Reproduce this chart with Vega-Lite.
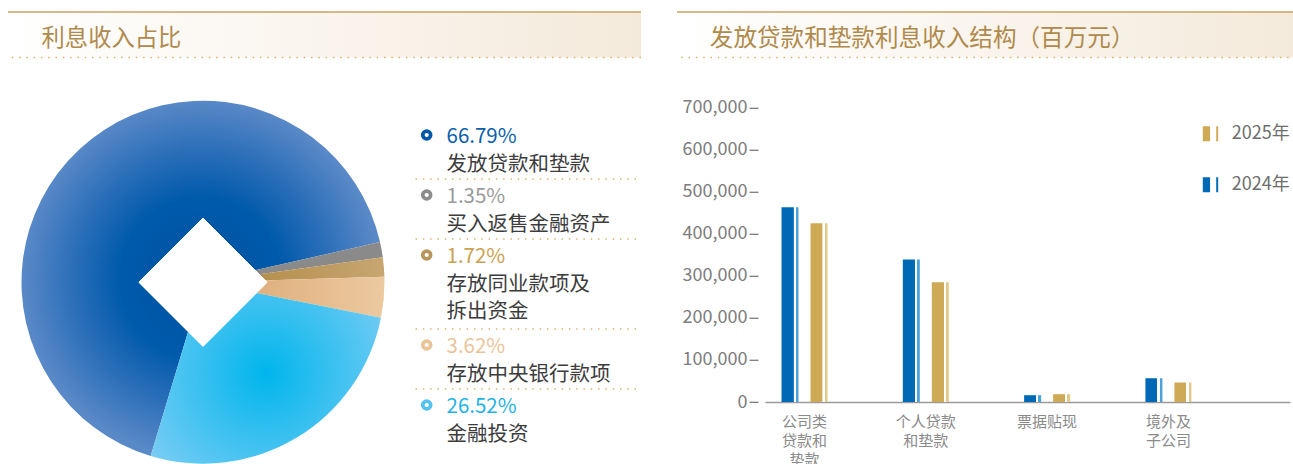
{
  "$schema": "https://vega.github.io/schema/vega-lite/v6.json",
  "padding": {"left": 7, "top": 11, "right": 0, "bottom": 0},
  "background": "#ffffff",
  "config": {
    "font": "Noto Sans CJK SC",
    "view": {"stroke": null}
  },
  "datasets": {
    "shares": [
      {"name": "发放贷款和垫款", "pct": 0.6679, "label": "发放贷款和垫款", "lines": 2, "rank": 1},
      {"name": "买入返售金融资产", "pct": 0.0135, "label": "买入返售金融资产", "lines": 2, "rank": 2},
      {"name": "存放同业款项及拆出资金", "pct": 0.0172, "label": "存放同业款项及\n拆出资金", "lines": 3, "rank": 3},
      {"name": "存放中央银行款项", "pct": 0.0362, "label": "存放中央银行款项", "lines": 2, "rank": 4},
      {"name": "金融投资", "pct": 0.2652, "label": "金融投资", "lines": 2, "rank": 5}
    ],
    "loans": [
      {"cat": "公司类贷款和垫款", "year": "2024年", "value": 463500},
      {"cat": "公司类贷款和垫款", "year": "2025年", "value": 425400},
      {"cat": "个人贷款和垫款", "year": "2024年", "value": 339000},
      {"cat": "个人贷款和垫款", "year": "2025年", "value": 285000},
      {"cat": "票据贴现", "year": "2024年", "value": 16200},
      {"cat": "票据贴现", "year": "2025年", "value": 18600},
      {"cat": "境外及子公司", "year": "2024年", "value": 56600},
      {"cat": "境外及子公司", "year": "2025年", "value": 46400}
    ],
    "heads": [
      {"panel": "L", "title": "利息收入占比"},
      {"panel": "R", "title": "发放贷款和垫款利息收入结构（百万元）"}
    ]
  },
  "spacing": 39.8,
  "resolve": {"scale": {"color": "independent", "stroke": "independent"}, "legend": {"color": "independent", "stroke": "independent"}},
  "vconcat": [
    {
      "spacing": 34,
      "hconcat": [
        {
          "width": 633, "height": 45.5,
          "data": {"name": "heads"},
          "transform": [{"filter": "datum.panel === 'L'"}],
          "layer": [
            {"mark": {"type": "rect", "fill": {"gradient": "linear", "x1": 0, "y1": 0, "x2": 1, "y2": 0, "stops": [{"offset": 0, "color": "#ffffff"}, {"offset": 1, "color": "#f4eadb"}]}},
             "encoding": {"x": {"datum": 0, "type": "quantitative", "scale": {"domain": [0, 1], "nice": false, "zero": false}, "axis": null}, "x2": {"datum": 1},
                          "y": {"datum": 0, "type": "quantitative", "scale": {"domain": [0, 1], "nice": false, "zero": false}, "axis": null}, "y2": {"datum": 1}}},
            {"mark": {"type": "rule", "stroke": "#c8a35c", "strokeWidth": 1.6}, "encoding": {"y": {"datum": 1, "type": "quantitative"}}},
            {"mark": {"type": "rule", "stroke": "#d9b266", "strokeWidth": 1.5, "strokeDash": [1.5, 5.8]}, "encoding": {"y": {"datum": 0, "type": "quantitative"}}},
            {"mark": {"type": "text", "align": "left", "baseline": "middle", "fontSize": 23.3, "color": "#b08a4a"},
             "encoding": {"x": {"datum": 0.053, "type": "quantitative"}, "y": {"datum": 0.413, "type": "quantitative"}, "text": {"field": "title"}}}
          ]
        },
        {
          "width": 619, "height": 45.5,
          "data": {"name": "heads"},
          "transform": [{"filter": "datum.panel === 'R'"}],
          "layer": [
            {"mark": {"type": "rect", "fill": {"gradient": "linear", "x1": 0, "y1": 0, "x2": 1, "y2": 0, "stops": [{"offset": 0, "color": "#ffffff"}, {"offset": 1, "color": "#f4eadb"}]}},
             "encoding": {"x": {"datum": 0, "type": "quantitative", "scale": {"domain": [0, 1], "nice": false, "zero": false}, "axis": null}, "x2": {"datum": 1},
                          "y": {"datum": 0, "type": "quantitative", "scale": {"domain": [0, 1], "nice": false, "zero": false}, "axis": null}, "y2": {"datum": 1}}},
            {"mark": {"type": "rule", "stroke": "#c8a35c", "strokeWidth": 1.6}, "encoding": {"y": {"datum": 1, "type": "quantitative"}}},
            {"mark": {"type": "rule", "stroke": "#d9b266", "strokeWidth": 1.5, "strokeDash": [1.5, 5.8]}, "encoding": {"y": {"datum": 0, "type": "quantitative"}}},
            {"mark": {"type": "text", "align": "left", "baseline": "middle", "fontSize": 23.6, "color": "#b08a4a"},
             "encoding": {"x": {"datum": 0.053, "type": "quantitative"}, "y": {"datum": 0.413, "type": "quantitative"}, "text": {"field": "title"}}}
          ]
        }
      ]
    },
    {
      "spacing": 45,
      "resolve": {"scale": {"color": "independent", "stroke": "independent"}, "legend": {"color": "independent", "stroke": "independent"}},
      "hconcat": [
        {
          "spacing": 13,
          "resolve": {"scale": {"color": "independent", "stroke": "independent"}, "legend": {"color": "independent", "stroke": "independent"}},
          "hconcat": [
            {
              "width": 390, "height": 348.8,
              "data": {"name": "shares"},
              "layer": [
                {
                  "mark": {"type": "arc", "outerRadius": 181.5},
                  "encoding": {
                    "theta": {"field": "pct", "type": "quantitative", "stack": true, "scale": {"range": [1.3474, 7.6306]}},
                    "order": {"field": "pct", "sort": "ascending"},
                    "color": {
                      "field": "name", "type": "nominal", "legend": null,
                      "scale": {"domain": ["发放贷款和垫款", "买入返售金融资产", "存放同业款项及拆出资金", "存放中央银行款项", "金融投资"],
                                "range": ["#0058a6", "#8a8a8a", "#b99657", "#e9c59b", "#55c3f0"]},
                      "condition": [
                        {"test": "datum.name === '发放贷款和垫款'", "value": {"gradient": "radial", "x1": 0.5, "y1": 0.5, "r1": 0, "x2": 0.5, "y2": 0.5, "r2": 0.5, "stops": [{"offset": 0, "color": "#0052a3"}, {"offset": 0.45, "color": "#005aab"}, {"offset": 0.72, "color": "#2c6fb9"}, {"offset": 1, "color": "#5a89c7"}]}},
                        {"test": "datum.name === '金融投资'", "value": {"gradient": "radial", "x1": 0.5, "y1": 0.5, "r1": 0, "x2": 0.5, "y2": 0.5, "r2": 0.62, "stops": [{"offset": 0, "color": "#00b5ec"}, {"offset": 1, "color": "#7acdf4"}]}},
                        {"test": "datum.name === '存放中央银行款项'", "value": {"gradient": "linear", "x1": 0, "y1": 0, "x2": 1, "y2": 0, "stops": [{"offset": 0, "color": "#dba670"}, {"offset": 1, "color": "#ecc9a0"}]}},
                        {"test": "datum.name === '存放同业款项及拆出资金'", "value": {"gradient": "linear", "x1": 0, "y1": 0, "x2": 1, "y2": 0, "stops": [{"offset": 0, "color": "#ad853f"}, {"offset": 1, "color": "#c7a671"}]}}
                      ]
                    }
                  }
                },
                {"mark": {"type": "point", "shape": "diamond", "size": 16500, "filled": true, "color": "#ffffff", "opacity": 1, "strokeWidth": 0}, "encoding": {}}
              ]
            },
            {
              "width": 224, "height": 348.8,
              "data": {"name": "shares"},
              "encoding": {
                "y": {"field": "lines", "type": "quantitative", "stack": "zero", "scale": {"domain": [-0.253, 11.374], "nice": false, "zero": false}, "axis": null},
                "order": {"field": "rank", "sort": "descending"},
                "detail": {"field": "name"}
              },
              "layer": [
                {"mark": {"type": "rule", "stroke": "#d6b169", "strokeWidth": 1.4, "strokeDash": [1.4, 5.9]},
                 "encoding": {"strokeOpacity": {"condition": {"test": "datum.rank === 1", "value": 0}, "value": 1}}},
                {"mark": {"type": "point", "shape": "circle", "size": 62, "strokeWidth": 3.7, "fill": "#ffffff", "filled": false, "opacity": 1, "yOffset": 16},
                 "encoding": {
                   "x": {"datum": 14.7, "type": "quantitative", "scale": {"domain": [0, 224], "nice": false, "zero": false}, "axis": null},
                   "stroke": {"field": "name", "type": "nominal", "legend": null,
                              "scale": {"domain": ["发放贷款和垫款", "买入返售金融资产", "存放同业款项及拆出资金", "存放中央银行款项", "金融投资"],
                                        "range": ["#0058a6", "#8c8c8c", "#b8955a", "#e9c496", "#56c2ee"]}}
                 }},
                {"mark": {"type": "text", "align": "left", "baseline": "middle", "fontSize": 20.5, "dy": 17.6},
                 "encoding": {
                   "x": {"datum": 34.5, "type": "quantitative"},
                   "text": {"field": "pct", "type": "quantitative", "format": ".2%"},
                   "color": {"field": "name", "type": "nominal", "legend": null,
                             "scale": {"domain": ["发放贷款和垫款", "买入返售金融资产", "存放同业款项及拆出资金", "存放中央银行款项", "金融投资"],
                                       "range": ["#0a5fae", "#9b9b9b", "#cca24f", "#ebc59a", "#1fb3e8"]}}
                 }},
                {"mark": {"type": "text", "align": "left", "baseline": "top", "fontSize": 20.5, "dy": 35.6, "lineBreak": "\n", "lineHeight": 27.4, "color": "#3c3c3c"},
                 "encoding": {
                   "x": {"datum": 34.5, "type": "quantitative"},
                   "text": {"field": "label"}
                 }}
              ]
            }
          ]
        },
        {
          "width": 525, "height": 294.2,
          "data": {"name": "loans"},
          "encoding": {
            "x": {"field": "cat", "type": "nominal", "sort": null, "title": null,
                  "scale": {"paddingInner": 0.522, "paddingOuter": 0.425, "align": 0.102},
                  "axis": {"labelAngle": 0, "ticks": false, "tickSize": 0, "domainColor": "#9b9b9b", "domainWidth": 1.5,
                           "labelColor": "#8a8a8a", "labelFontSize": 15, "labelLineHeight": 19, "labelPadding": 12, "labelBaseline": "top",
                           "labelExpr": "({'公司类贷款和垫款': ['公司类', '贷款和', '垫款'], '个人贷款和垫款': ['个人贷款', '和垫款'], '票据贴现': ['票据贴现'], '境外及子公司': ['境外及', '子公司']})[datum.label]"}},
            "xOffset": {"field": "year", "type": "nominal", "sort": ["2024年", "2025年"], "scale": {"paddingInner": 0, "paddingOuter": 0}},
            "y": {"field": "value", "type": "quantitative", "title": null,
                  "scale": {"domain": [0, 700000], "nice": false},
                  "axis": {"values": [0, 100000, 200000, 300000, 400000, 500000, 600000, 700000], "format": ",.0f", "domain": false, "grid": false,
                           "tickSize": 9, "tickWidth": 1.3, "tickColor": "#7d7d7d", "labelColor": "#7d7d7d", "labelFontSize": 18, "labelPadding": 2, "offset": 7}}
          },
          "layer": [
            {
              "mark": {"type": "bar", "width": 17},
              "encoding": {
                "fill": {
                  "condition": [
                    {"test": "datum.year === '2024年'", "value": {"gradient": "linear", "x1": 0, "y1": 0, "x2": 1, "y2": 0, "stops": [{"offset": 0, "color": "#0069b5"}, {"offset": 0.705, "color": "#0069b5"}, {"offset": 0.706, "color": "#ffffff"}, {"offset": 0.84, "color": "#ffffff"}, {"offset": 0.841, "color": "#4aa2dd"}, {"offset": 1, "color": "#4aa2dd"}]}}
                  ],
                  "value": {"gradient": "linear", "x1": 0, "y1": 0, "x2": 1, "y2": 0, "stops": [{"offset": 0, "color": "#cfaa56"}, {"offset": 0.705, "color": "#cfaa56"}, {"offset": 0.706, "color": "#ffffff"}, {"offset": 0.84, "color": "#ffffff"}, {"offset": 0.841, "color": "#e2c98a"}, {"offset": 1, "color": "#e2c98a"}]}
                }
              }
            },
            {
              "mark": {"type": "bar", "width": 0.01},
              "encoding": {
                "color": {
                  "field": "year", "type": "nominal",
                  "scale": {"domain": ["2025年", "2024年"], "range": ["#cfaa56", "#0069b4"]},
                  "legend": {"orient": "none", "legendX": 436.3, "legendY": 17, "title": null, "direction": "vertical",
                             "symbolType": "M-1,-1H-0.03V1H-1Z M0.79,-1H1.05V1H0.79Z", "symbolSize": 225, "symbolStrokeWidth": 0, "symbolOpacity": 1,
                             "labelFontSize": 18, "labelColor": "#6e6e6e", "labelOffset": 12.4, "rowPadding": 33}
                }
              }
            }
          ]
        }
      ]
    }
  ]
}
